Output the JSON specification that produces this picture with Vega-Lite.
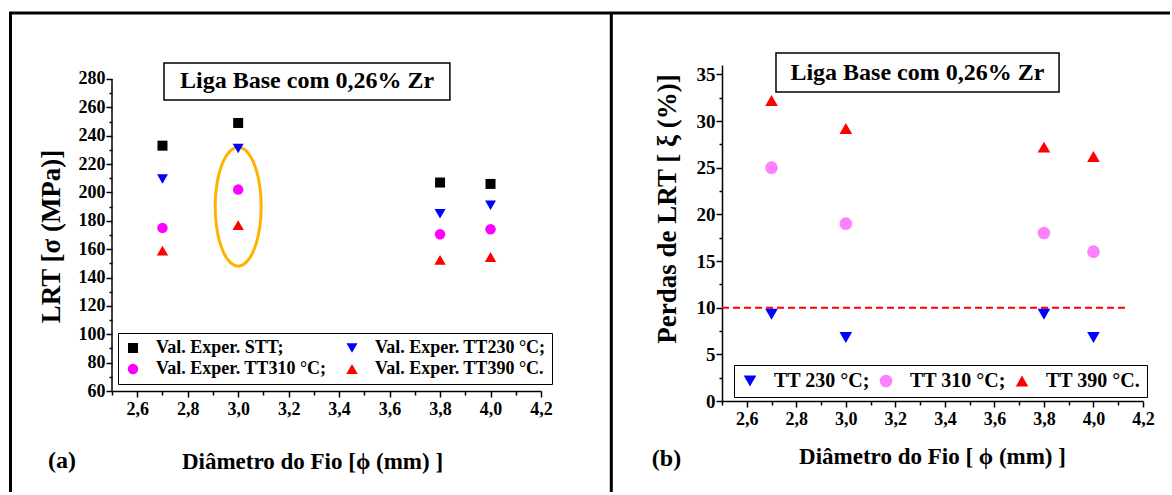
{
  "$schema": "https://vega.github.io/schema/vega-lite/v6.json",
  "padding": {"left": 8, "top": 10, "right": 0, "bottom": 0},
  "background": "white",
  "spacing": -4,
  "config": {
    "view": {"stroke": null},
    "font": "Liberation Serif",
    "axis": {
      "domainColor": "black", "domainWidth": 1.5, "tickColor": "black", "tickWidth": 1.5,
      "labelFont": "Liberation Serif", "labelFontWeight": "bold", "labelColor": "black", "labelFontSize": 18,
      "titleFont": "Liberation Serif", "titleFontWeight": "bold", "titleColor": "black",
      "grid": false, "labelOverlap": false, "labelFlush": false, "tickCount": 100
    },
    "legend": {
      "labelFont": "Liberation Serif", "labelFontWeight": "bold", "labelColor": "black",
      "strokeColor": "black", "fillColor": "white", "padding": 6, "labelLimit": 400
    }
  },
  "resolve": {
    "scale": {"x": "independent", "y": "independent", "color": "independent", "shape": "independent", "size": "independent"},
    "legend": {"color": "independent", "shape": "independent", "size": "independent"}
  },
  "hconcat": [
    {
      "width": 429,
      "height": 326,
      "layer": [
        {
          "data": {"values": [{}]},
          "mark": {"type": "rule", "stroke": "black", "strokeWidth": 3, "strokeCap": "square"},
          "encoding": {"x": {"datum": 2.0978}, "x2": {"datum": 4.4786}, "y": {"datum": 326.54}}
        },
        {
          "data": {"values": [{}]},
          "mark": {"type": "rule", "stroke": "black", "strokeWidth": 3},
          "encoding": {"x": {"datum": 2.0978}, "y": {"datum": 326.54}, "y2": {"datum": -11.2}}
        },
        {
          "data": {"values": [{}]},
          "mark": {"type": "rule", "stroke": "black", "strokeWidth": 3},
          "encoding": {"x": {"datum": 4.4786}, "y": {"datum": 326.54}, "y2": {"datum": -11.2}}
        },
        {
          "data": {"values": [{}]},
          "mark": {"type": "rule", "stroke": "black", "strokeWidth": 1.5},
          "encoding": {"x": {"datum": 2.5}, "y": {"datum": 60}, "y2": {"datum": 280}}
        },
        {
          "data": {"values": [{}]},
          "mark": {"type": "rect", "fill": "white", "stroke": "black", "strokeWidth": 1.5},
          "encoding": {"x": {"datum": 2.706}, "x2": {"datum": 3.839}, "y": {"datum": 291.28}, "y2": {"datum": 265.19}}
        },
        {
          "data": {"values": [{"t": "Liga Base com 0,26% Zr"}]},
          "mark": {"type": "text", "font": "Liberation Serif", "fontWeight": "bold", "fontSize": 24, "align": "center", "baseline": "middle", "color": "black"},
          "encoding": {"x": {"datum": 3.273}, "y": {"datum": 278.24}, "text": {"field": "t"}}
        },
        {
          "data": {"values": [{"t": "(a)"}]},
          "mark": {"type": "text", "font": "Liberation Serif", "fontWeight": "bold", "fontSize": 24, "align": "center", "baseline": "middle", "color": "black"},
          "encoding": {"x": {"datum": 2.302}, "y": {"datum": 10.64}, "text": {"field": "t"}}
        },
        {
          "data": {"values": [{}]},
          "mark": {"type": "point", "shape": "M0.387,0 L0.381,0.174 L0.363,0.342 L0.335,0.5 L0.296,0.643 L0.249,0.766 L0.193,0.866 L0.132,0.940 L0.067,0.985 L0,1 L-0.067,0.985 L-0.132,0.940 L-0.193,0.866 L-0.249,0.766 L-0.296,0.643 L-0.335,0.5 L-0.363,0.342 L-0.381,0.174 L-0.387,0 L-0.381,-0.174 L-0.363,-0.342 L-0.335,-0.5 L-0.296,-0.643 L-0.249,-0.766 L-0.193,-0.866 L-0.132,-0.940 L-0.067,-0.985 L0,-1 L0.067,-0.985 L0.132,-0.940 L0.193,-0.866 L0.249,-0.766 L0.296,-0.643 L0.335,-0.5 L0.363,-0.342 L0.381,-0.174 Z", "size": 14161, "filled": false, "stroke": "#FFB300", "strokeWidth": 3, "opacity": 1},
          "encoding": {"x": {"datum": 3.0}, "y": {"datum": 190}}
        },
        {
          "data": {"values": [
            {"d": 2.7, "v": 233, "serie": "Val. Exper. STT;"},
            {"d": 3.0, "v": 249, "serie": "Val. Exper. STT;"},
            {"d": 3.8, "v": 207, "serie": "Val. Exper. STT;"},
            {"d": 4.0, "v": 206, "serie": "Val. Exper. STT;"},
            {"d": 2.7, "v": 209.5, "serie": "Val. Exper. TT230 °C;"},
            {"d": 3.0, "v": 231, "serie": "Val. Exper. TT230 °C;"},
            {"d": 3.8, "v": 185, "serie": "Val. Exper. TT230 °C;"},
            {"d": 4.0, "v": 191, "serie": "Val. Exper. TT230 °C;"},
            {"d": 2.7, "v": 175, "serie": "Val. Exper. TT310 °C;"},
            {"d": 3.0, "v": 202, "serie": "Val. Exper. TT310 °C;"},
            {"d": 3.8, "v": 170.5, "serie": "Val. Exper. TT310 °C;"},
            {"d": 4.0, "v": 174, "serie": "Val. Exper. TT310 °C;"},
            {"d": 2.7, "v": 159, "serie": "Val. Exper. TT390 °C."},
            {"d": 3.0, "v": 177, "serie": "Val. Exper. TT390 °C."},
            {"d": 3.8, "v": 152.5, "serie": "Val. Exper. TT390 °C."},
            {"d": 4.0, "v": 154.5, "serie": "Val. Exper. TT390 °C."}
          ]},
          "mark": {"type": "point", "filled": true, "opacity": 1, "strokeWidth": 0},
          "encoding": {
            "x": {
              "field": "d", "type": "quantitative",
              "scale": {"domain": [2.5, 4.2], "nice": false, "zero": false},
              "axis": {
                "title": "Diâmetro do Fio [ϕ (mm) ]",
                "values": [2.5,2.6,2.7,2.8,2.9,3.0,3.1,3.2,3.3,3.4,3.5,3.6,3.7,3.8,3.9,4.0,4.1,4.2],
                "tickCount": 100,
                "labelExpr": "round(datum.value*10) % 2 === 0 ? replace(format(datum.value, '.1f'), '.', ',') : ''",
                "tickSize": {"condition": {"test": "round(datum.value*10) % 2 === 0", "value": 6}, "value": 4},
                "labelOverlap": false, "labelFlush": false,
                "labelPadding": 3,
                "titleFontSize": 23, "titleX": 200, "titleY": 59, "titleBaseline": "top", "titleAlign": "center"
              }
            },
            "y": {
              "field": "v", "type": "quantitative",
              "scale": {"domain": [60, 289.87], "nice": false, "zero": false},
              "axis": {
                "title": "LRT [σ (MPa)]",
                "domain": false,
                "values": [60,70,80,90,100,110,120,130,140,150,160,170,180,190,200,210,220,230,240,250,260,270,280],
                "tickCount": 100,
                "labelExpr": "datum.value % 20 === 0 ? format(datum.value, 'd') : ''",
                "tickSize": {"condition": {"test": "datum.value % 20 === 0", "value": 6}, "value": 3},
                "labelOverlap": false, "labelFlush": false,
                "labelPadding": 1,
                "titleFontSize": 27, "titleX": -47, "titleY": 171, "titleAlign": "center"
              }
            },
            "color": {
              "field": "serie", "type": "nominal",
              "scale": {"domain": ["Val. Exper. STT;", "Val. Exper. TT310 °C;", "Val. Exper. TT230 °C;", "Val. Exper. TT390 °C."], "range": ["#000000", "#FF00FF", "#0000FF", "#FF0000"]},
              "legend": {"title": null, "orient": "none", "legendX": 6, "legendY": 268, "columns": 2, "labelFontSize": 18, "symbolStrokeWidth": 0, "rowPadding": 3, "columnPadding": 16, "labelOffset": 14}
            },
            "shape": {
              "field": "serie", "type": "nominal",
              "scale": {"domain": ["Val. Exper. STT;", "Val. Exper. TT310 °C;", "Val. Exper. TT230 °C;", "Val. Exper. TT390 °C."], "range": ["square", "circle", "triangle-down", "triangle-up"]},
              "legend": {"title": null, "orient": "none", "legendX": 6, "legendY": 268, "columns": 2, "labelFontSize": 18, "symbolStrokeWidth": 0, "rowPadding": 3, "columnPadding": 16, "labelOffset": 14}
            },
            "size": {
              "field": "serie", "type": "nominal",
              "scale": {"domain": ["Val. Exper. STT;", "Val. Exper. TT310 °C;", "Val. Exper. TT230 °C;", "Val. Exper. TT390 °C."], "range": [100, 130, 165, 165]},
              "legend": {"title": null, "orient": "none", "legendX": 6, "legendY": 268, "columns": 2, "labelFontSize": 18, "symbolStrokeWidth": 0, "rowPadding": 3, "columnPadding": 16, "labelOffset": 14}
            }
          }
        }
      ]
    },
    {
      "width": 421,
      "height": 336,
      "layer": [
        {
          "data": {"values": [{}]},
          "mark": {"type": "rule", "stroke": "black", "strokeWidth": 3},
          "encoding": {"x": {"datum": 2.057}, "x2": {"datum": 4.309}, "y": {"datum": 41.571}}
        },
        {
          "data": {"values": [{}]},
          "mark": {"type": "rect", "fill": "white", "stroke": "black", "strokeWidth": 1.5},
          "encoding": {"x": {"datum": 2.718}, "x2": {"datum": 3.861}, "y": {"datum": 37.286}, "y2": {"datum": 33.107}}
        },
        {
          "data": {"values": [{"t": "Liga Base com 0,26% Zr"}]},
          "mark": {"type": "text", "font": "Liberation Serif", "fontWeight": "bold", "fontSize": 24, "align": "center", "baseline": "middle", "color": "black"},
          "encoding": {"x": {"datum": 3.289}, "y": {"datum": 35.196}, "text": {"field": "t"}}
        },
        {
          "data": {"values": [{"t": "(b)"}]},
          "mark": {"type": "text", "font": "Liberation Serif", "fontWeight": "bold", "fontSize": 24, "align": "center", "baseline": "middle", "color": "black"},
          "encoding": {"x": {"datum": 2.276}, "y": {"datum": -6.21}, "text": {"field": "t"}}
        },
        {
          "data": {"values": [{}]},
          "mark": {"type": "rule", "stroke": "#FF0000", "strokeWidth": 2, "strokeDash": [7, 4]},
          "encoding": {"x": {"datum": 2.5}, "x2": {"datum": 4.14}, "y": {"datum": 10}}
        },
        {
          "data": {"values": [
            {"d": 2.7, "p": 9.3, "serie": "TT 230 °C;"},
            {"d": 3.0, "p": 6.8, "serie": "TT 230 °C;"},
            {"d": 3.8, "p": 9.3, "serie": "TT 230 °C;"},
            {"d": 4.0, "p": 6.8, "serie": "TT 230 °C;"},
            {"d": 2.7, "p": 25, "serie": "TT 310 °C;"},
            {"d": 3.0, "p": 19, "serie": "TT 310 °C;"},
            {"d": 3.8, "p": 18, "serie": "TT 310 °C;"},
            {"d": 4.0, "p": 16, "serie": "TT 310 °C;"},
            {"d": 2.7, "p": 32.2, "serie": "TT 390 °C."},
            {"d": 3.0, "p": 29.2, "serie": "TT 390 °C."},
            {"d": 3.8, "p": 27.2, "serie": "TT 390 °C."},
            {"d": 4.0, "p": 26.2, "serie": "TT 390 °C."}
          ]},
          "mark": {"type": "point", "filled": true, "size": 160, "opacity": 1, "strokeWidth": 0},
          "encoding": {
            "x": {
              "field": "d", "type": "quantitative",
              "scale": {"domain": [2.5, 4.2], "nice": false, "zero": false},
              "axis": {
                "title": "Diâmetro do Fio [ ϕ (mm) ]",
                "values": [2.5,2.6,2.7,2.8,2.9,3.0,3.1,3.2,3.3,3.4,3.5,3.6,3.7,3.8,3.9,4.0,4.1,4.2],
                "tickCount": 100,
                "labelExpr": "round(datum.value*10) % 2 === 0 ? replace(format(datum.value, '.1f'), '.', ',') : ''",
                "tickSize": {"condition": {"test": "round(datum.value*10) % 2 === 0", "value": 6}, "value": 4},
                "labelOverlap": false, "labelFlush": false,
                "labelPadding": 3,
                "titleFontSize": 23, "titleX": 210, "titleY": 44, "titleBaseline": "top", "titleAlign": "center"
              }
            },
            "y": {
              "field": "p", "type": "quantitative",
              "scale": {"domain": [0, 36], "nice": false, "zero": false},
              "axis": {
                "title": "Perdas de LRT  [ ξ (%)]",
                "values": [0,2.5,5,7.5,10,12.5,15,17.5,20,22.5,25,27.5,30,32.5,35],
                "tickCount": 100,
                "labelExpr": "datum.value % 5 === 0 ? format(datum.value, 'd') : ''",
                "tickSize": {"condition": {"test": "datum.value % 5 === 0", "value": 6}, "value": 3},
                "labelOverlap": false, "labelFlush": false,
                "labelPadding": 1, "labelFontSize": 19,
                "titleFontSize": 27, "titleX": -41, "titleY": 143.5, "titleAlign": "center"
              }
            },
            "color": {
              "field": "serie", "type": "nominal",
              "scale": {"domain": ["TT 230 °C;", "TT 310 °C;", "TT 390 °C."], "range": ["#0000FF", "#FF80FF", "#FF0000"]},
              "legend": {"title": null, "orient": "none", "legendX": 12, "legendY": 300, "columns": 3, "labelFontSize": 20, "symbolSize": 160, "symbolStrokeWidth": 0, "columnPadding": 6, "labelOffset": 14}
            },
            "shape": {
              "field": "serie", "type": "nominal",
              "scale": {"domain": ["TT 230 °C;", "TT 310 °C;", "TT 390 °C."], "range": ["triangle-down", "circle", "triangle-up"]},
              "legend": {"title": null, "orient": "none", "legendX": 12, "legendY": 300, "columns": 3, "labelFontSize": 20, "symbolSize": 160, "symbolStrokeWidth": 0, "columnPadding": 6, "labelOffset": 14}
            }
          }
        }
      ]
    }
  ]
}
